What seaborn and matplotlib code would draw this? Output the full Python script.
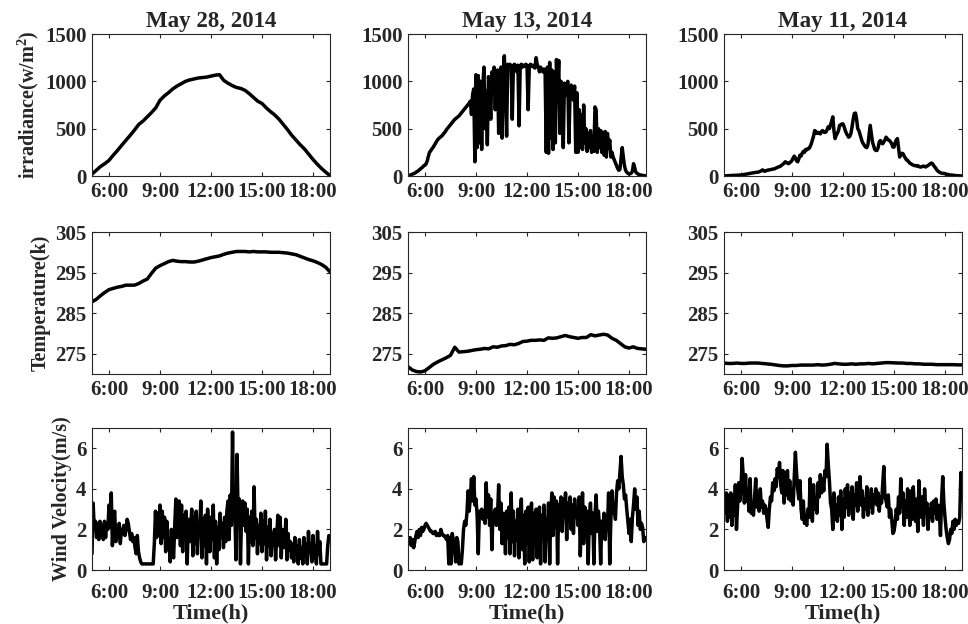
import numpy as np
import pandas as pd
import matplotlib
matplotlib.use("Agg")
import matplotlib.pyplot as plt
import seaborn as sns

# ---------------------------------------------------------------------------
# Measured records for three days (hours of day on the x axis)
# ---------------------------------------------------------------------------
T_START, T_END = 4.97, 19.03

days = ["May 28, 2014", "May 13, 2014", "May 11, 2014"]

# Irradiance (W/m^2)
irr_may28 = [20, 60, 100, 130, 165, 220, 270, 325, 378, 430, 485, 545, 580, 625,
             670, 720, 800, 845, 880, 920, 950, 975, 1000, 1015, 1025, 1035, 1040,
             1045, 1055, 1065, 1070, 1010, 980, 955, 935, 925, 905, 870, 830, 790,
             766, 720, 680, 645, 600, 545, 490, 430, 380, 330, 285, 230, 175, 125,
             80, 40, 5]

irr_may13 = [
    0, 5, 10, 15, 20, 25, 30, 40, 45, 55, 65, 75, 85, 95, 110,
    113, 130, 160, 210, 250, 265, 285, 300, 320, 340, 360, 380, 395, 405, 415,
    425, 440, 455, 470, 490, 505, 520, 535, 550, 565, 580, 595, 605, 615, 625,
    635, 650, 665, 680, 695, 710, 725, 740, 755, 770, 790, 650, 860, 920, 150,
    1070, 300, 1060, 350, 1000, 280, 950, 1150, 500, 900, 330, 1050, 950, 600, 1100,
    1000, 1150, 700, 1100, 1120, 450, 1050, 1150, 400, 1100, 1270, 900, 420, 1180, 1150,
    1180, 1160, 600, 1170, 1180, 1150, 1100, 1170, 530, 1160, 1180, 1150, 1170, 1160, 1180,
    1170, 700, 1150, 1180, 1160, 1170, 1150, 1140, 1250, 1180, 1150, 1100, 1150, 1120, 1100,
    1130, 1080, 250, 1150, 240, 1200, 400, 1120, 280, 1100, 350, 1230, 900, 1220, 450,
    1000, 950, 300, 980, 850, 950, 1000, 350, 900, 960, 850, 800, 950, 250, 880,
    250, 700, 300, 650, 280, 750, 350, 500, 260, 450, 300, 480, 250, 420, 260,
    730, 700, 250, 500, 300, 480, 250, 460, 220, 470, 200, 450, 300, 380, 200,
    250, 200, 170, 140, 110, 80, 60, 70, 180, 300, 200, 110, 60, 40, 30,
    20, 25, 30, 50, 130, 90, 40, 30, 20, 15, 10, 10, 5, 5, 3,
    0]

irr_may11 = [
    0, 1, 2, 3, 4, 5, 5, 6, 6, 7, 7, 8, 8, 9, 10,
    10, 12, 14, 16, 18, 20, 22, 25, 28, 30, 32, 34, 36, 38, 40,
    40, 45, 50, 55, 65, 55, 50, 55, 60, 62, 65, 68, 70, 72, 75,
    78, 85, 90, 95, 100, 105, 115, 125, 135, 150, 145, 135, 130, 140, 150,
    165, 190, 210, 190, 160, 150, 180, 220, 210, 240, 260, 250, 280, 275, 290,
    290, 310, 340, 380, 420, 480, 470, 450, 460, 455, 445, 470, 480, 465, 460,
    465, 490, 520, 500, 540, 580, 625, 480, 395, 430, 450, 480, 535, 540, 550,
    550, 520, 480, 450, 430, 410, 420, 450, 520, 600, 660, 665, 600, 500, 480,
    440, 400, 360, 340, 320, 305, 300, 330, 430, 535, 450, 360, 320, 280, 270,
    270, 300, 360, 375, 350, 340, 360, 380, 410, 395, 380, 375, 360, 340, 305,
    305, 350, 380, 395, 300, 200, 230, 240, 235, 210, 190, 170, 165, 150, 135,
    130, 120, 115, 110, 110, 105, 110, 100, 95, 95, 100, 105, 100, 95, 105,
    110, 120, 130, 137, 130, 110, 95, 80, 60, 50, 40, 35, 30, 28, 25,
    25, 20, 18, 15, 12, 10, 10, 8, 6, 5, 4, 3, 2, 2, 1,
    0]

# Temperature (K)
temp_may28 = [287.8, 288.4, 289.3, 290.1, 290.8, 291.1, 291.4, 291.6, 291.9, 291.9,
              291.9, 292.3, 292.9, 293.4, 294.8, 296.1, 296.7, 297.2, 297.7, 298.0,
              297.8, 297.7, 297.7, 297.6, 297.6, 297.8, 298.1, 298.4, 298.7, 298.9,
              299.1, 299.5, 299.8, 300.0, 300.2, 300.2, 300.2, 300.1, 300.2, 300.1,
              300.1, 300.1, 300.0, 300.0, 300.0, 299.9, 299.8, 299.6, 299.4, 299.0,
              298.6, 298.2, 297.9, 297.5, 297.0, 296.3, 295.2]

temp_may13 = [271.8, 271.0, 270.6, 270.5, 270.8, 271.6, 272.4, 273.0, 273.5, 274.0,
              274.6, 276.6, 275.4, 275.5, 275.6, 275.8, 276.0, 276.1, 276.3, 276.2,
              276.7, 276.6, 276.9, 277.0, 277.3, 277.2, 277.5, 278.0, 278.1, 278.3,
              278.3, 278.4, 278.3, 278.9, 278.8, 278.9, 279.2, 279.5, 279.2, 279.0,
              278.8, 279.0, 279.0, 279.7, 279.4, 279.6, 279.8, 279.6, 278.8, 278.3,
              277.5, 276.7, 276.4, 276.7, 276.3, 276.2, 276.1]

temp_may11 = [272.7, 272.6, 272.6, 272.7, 272.6, 272.6, 272.7, 272.7, 272.7, 272.6,
              272.5, 272.4, 272.25, 272.1, 272.0, 272.0, 272.1, 272.1, 272.2, 272.2,
              272.2, 272.2, 272.3, 272.2, 272.25, 272.4, 272.6, 272.5, 272.4, 272.4,
              272.5, 272.4, 272.5, 272.5, 272.6, 272.5, 272.6, 272.7, 272.8, 272.8,
              272.75, 272.7, 272.7, 272.6, 272.6, 272.5, 272.5, 272.4, 272.4, 272.4,
              272.3, 272.3, 272.3, 272.3, 272.3, 272.25, 272.25]

# Wind velocity (m/s)
wind_may28 = [
    0.8, 3.3, 2.0, 2.4, 1.6, 2.3, 1.5, 2.4, 1.7, 2.2, 1.5, 2.4, 1.6, 2.3, 2.0,
    3.2, 2.1, 3.8, 1.2, 2.6, 2.9, 1.4, 2.0, 1.6, 2.3, 1.3, 2.0, 1.8, 2.2, 1.7,
    2.0, 2.5, 2.3, 1.9, 1.5, 1.8, 1.4, 1.6, 1.1, 0.8, 1.7, 0.9, 0.6, 0.4, 0.3,
    0.3, 0.3, 0.3, 0.3, 0.3, 0.3, 0.3, 0.3, 0.3, 0.3, 1.3, 2.9, 1.6, 2.8, 1.7,
    3.2, 1.3, 2.9, 1.6, 2.6, 0.9, 2.4, 1.1, 1.5, 0.4, 2.0, 1.0, 0.6, 2.2, 3.5,
    1.6, 2.8, 3.4, 1.2, 3.2, 0.9, 2.7, 1.5, 2.9, 0.3, 2.5, 1.4, 2.1, 3.0, 0.7,
    2.6, 1.3, 2.9, 0.8, 2.3, 1.9, 3.4, 0.6, 2.5, 1.2, 2.7, 0.3, 3.0, 2.0, 0.9,
    2.6, 1.5, 3.2, 0.6, 2.4, 0.3, 2.1, 1.0, 2.8, 1.6, 2.3, 1.1, 2.6, 1.4, 2.9,
    3.4, 1.5, 3.7, 2.2, 6.8, 2.5, 3.0, 0.5, 5.7, 2.4, 3.5, 0.3, 2.8, 3.4, 2.2,
    3.3, 1.9, 3.0, 0.3, 2.6, 1.4, 2.9, 1.2, 4.1, 1.6, 2.5, 0.8, 2.2, 1.3, 2.8,
    0.9, 2.4, 1.3, 2.9, 0.5, 2.1, 1.2, 2.5, 0.7, 1.8, 1.3, 2.0, 0.5, 1.7, 2.7,
    1.2, 2.6, 0.6, 2.0, 1.4, 1.1, 2.5, 0.5, 1.8, 1.0, 1.4, 0.6, 1.3, 0.4, 1.6,
    0.8, 1.2, 0.3, 1.5, 0.6, 1.1, 0.3, 1.6, 0.7, 1.3, 0.3, 1.9, 0.9, 1.3, 0.4,
    1.7, 0.6, 1.2, 0.3, 1.9, 0.8, 1.4, 0.3, 0.3, 0.3, 0.3, 0.3, 0.3, 1.2, 1.7,
    1.6]

wind_may13 = [
    1.4, 1.3, 1.6, 1.2, 1.5, 1.1, 1.4, 1.7, 1.9, 1.6, 2.0, 1.7, 2.1, 1.9, 2.0,
    2.2, 2.3, 2.2, 2.1, 2.0, 1.9, 1.9, 1.8, 1.8, 1.9, 1.7, 1.8, 1.7, 1.7, 2.0,
    1.8, 1.7, 1.7, 1.6, 1.5, 1.7, 0.3, 1.6, 0.3, 1.8, 1.5, 1.2, 0.4, 1.6, 1.4,
    0.3, 0.4, 0.3, 1.0, 2.0, 2.4, 2.2, 2.8, 3.9, 2.9, 3.6, 4.5, 3.4, 4.6, 3.2,
    3.5, 2.7, 0.8, 2.9, 2.6, 3.0, 2.5, 2.9, 2.3, 4.3, 2.6, 3.7, 2.2, 3.5, 1.0,
    2.8, 2.4, 3.0, 2.2, 2.7, 4.2, 2.0, 3.3, 1.3, 2.8, 2.5, 0.8, 2.9, 1.6, 3.1,
    0.8, 3.8, 1.4, 2.9, 0.7, 2.4, 1.5, 3.0, 0.6, 2.5, 3.5, 1.0, 2.7, 0.3, 2.9,
    1.3, 3.1, 0.4, 2.6, 3.3, 0.5, 2.8, 1.2, 3.0, 0.6, 2.2, 3.1, 0.3, 2.7, 1.6,
    3.2, 0.4, 2.5, 1.9, 3.3, 0.3, 2.9, 3.8, 1.7, 3.6, 2.1, 3.4, 0.3, 3.2, 2.4,
    3.6, 1.9, 3.5, 2.6, 3.8, 1.5, 3.3, 2.4, 3.6, 2.0, 3.2, 1.8, 3.5, 2.7, 3.0,
    2.2, 3.6, 0.7, 2.5, 3.8, 1.3, 3.1, 2.4, 2.9, 0.3, 2.6, 3.3, 1.8, 2.8, 0.3,
    2.7, 3.7, 1.9, 2.9, 2.2, 0.3, 2.4, 2.0, 2.8, 1.5, 2.6, 2.2, 3.8, 0.3, 2.5,
    3.9, 2.8, 3.2, 2.5, 3.8, 4.4, 4.0, 4.8, 5.6, 4.6, 4.2, 3.5, 3.7, 3.0, 2.4,
    1.8, 2.5, 1.4, 2.6, 3.2, 4.0, 3.0, 3.6, 2.2, 2.9, 2.0, 2.3, 2.1, 1.4, 1.6,
    1.5]

wind_may11 = [
    3.3, 2.8, 3.8, 2.4, 3.7, 2.6, 3.8, 2.2, 3.3, 2.7, 4.2, 2.0, 3.1, 4.3, 3.4,
    4.0, 5.5, 4.6, 3.3, 4.7, 3.4, 4.0, 2.9, 4.5, 2.8, 3.0, 2.7, 3.6, 4.5, 3.1,
    3.5, 2.9, 4.0, 3.1, 3.4, 2.8, 3.2, 3.0, 2.5, 2.1, 3.0, 3.6, 3.4, 4.3, 3.9,
    4.5, 4.1, 5.0, 4.6, 5.3, 4.2, 3.8, 4.9, 3.3, 4.8, 3.7, 4.9, 3.5, 4.4, 3.4,
    4.0, 3.2, 4.6, 5.8, 4.8, 4.0, 3.5, 4.4, 3.0, 2.5, 3.4, 2.3, 2.5, 2.2, 3.0,
    2.6, 4.5, 3.2, 2.4, 4.2, 3.0, 3.5, 2.8, 4.3, 3.6, 4.7, 3.8, 4.5, 3.9, 4.9,
    4.6, 6.2, 5.2, 4.4, 3.3, 3.0, 2.0, 3.8, 2.5, 3.2, 2.4, 3.6, 2.7, 3.9, 2.0,
    3.5, 2.6, 4.0, 3.1, 4.2, 2.7, 3.8, 3.0, 4.1, 2.5, 3.7, 3.2, 4.3, 2.9, 3.8,
    4.6, 3.2, 3.9, 2.6, 3.5, 3.0, 4.1, 2.7, 3.6, 3.1, 4.0, 2.8, 3.7, 3.3, 4.0,
    3.2, 3.8, 2.9, 3.6, 3.3, 4.2, 5.1, 3.6, 3.4, 3.1, 3.7, 2.6, 3.0, 2.5, 1.8,
    1.9, 2.3, 3.0, 2.5, 3.6, 2.8, 4.5, 3.1, 3.8, 2.2, 3.4, 2.6, 4.0, 3.2, 2.2,
    3.9, 2.5, 4.1, 3.0, 2.4, 3.5, 1.9, 4.4, 3.1, 2.6, 3.6, 2.2, 4.0, 2.9, 3.3,
    2.0, 3.0, 2.6, 3.3, 2.4, 3.4, 2.8, 3.5, 2.5, 3.2, 2.8, 1.7, 3.5, 4.6, 3.3,
    2.6, 2.0, 1.6, 1.3, 1.5, 2.0, 1.8, 2.4, 2.0, 2.5, 2.2, 2.4, 2.3, 2.6, 4.8,
    3.5]

x_tick_hours = [6, 9, 12, 15, 18]
x_tick_labels = ["6:00", "9:00", "12:00", "15:00", "18:00"]

rows = [
    {"series": [irr_may28, irr_may13, irr_may11],
     "ylabel": r"irradiance(w/m$^{\mathbf{2}}$)",
     "ylim": (0, 1500), "yticks": [0, 500, 1000, 1500]},
    {"series": [temp_may28, temp_may13, temp_may11],
     "ylabel": "Temperature(k)",
     "ylim": (270, 305), "yticks": [275, 285, 295, 305]},
    {"series": [wind_may28, wind_may13, wind_may11],
     "ylabel": "Wind Velocity(m/s)",
     "ylim": (0, 7), "yticks": [0, 2, 4, 6]},
]

# ---------------------------------------------------------------------------
# Styling
# ---------------------------------------------------------------------------
sns.set_style("ticks")
plt.rcParams["font.family"] = ["Liberation Serif", "DejaVu Serif"]
plt.rcParams["font.weight"] = "bold"
plt.rcParams["mathtext.fontset"] = "custom"
plt.rcParams["mathtext.rm"] = "Liberation Serif:bold"
plt.rcParams["mathtext.bf"] = "Liberation Serif:bold"
plt.rcParams["axes.linewidth"] = 0.8

INK = "#262626"

fig = plt.figure(figsize=(9.68, 6.24), dpi=100)

col_left = [92, 408, 724]
col_width = 238
row_top = [34, 232, 428]
row_height = 142
W, H = 968.0, 624.0

for r, row in enumerate(rows):
    for c in range(3):
        vals = row["series"][c]
        df = pd.DataFrame({
            "hour": np.linspace(T_START, T_END, len(vals)),
            "value": vals,
        })
        ax = fig.add_axes([col_left[c] / W,
                           1 - (row_top[r] + row_height) / H,
                           col_width / W,
                           row_height / H])
        sns.lineplot(data=df, x="hour", y="value", ax=ax, color="black",
                     linewidth=2.5, estimator=None, sort=False)
        ax.set_xlim(T_START, T_END)
        ax.set_ylim(*row["ylim"])
        ax.set_xticks(x_tick_hours)
        ax.set_xticklabels(x_tick_labels)
        ax.set_yticks(row["yticks"])
        ax.tick_params(direction="in", top=True, right=True, length=3,
                       width=0.8, labelsize=15, pad=4, color=INK,
                       labelcolor=INK)
        if r == 2:
            ax.tick_params(axis="x", pad=9)
        for lab in ax.get_xticklabels() + ax.get_yticklabels():
            lab.set_fontweight("bold")
        for sp in ax.spines.values():
            sp.set_visible(True)
            sp.set_color(INK)
        ax.set_xlabel("")
        ax.set_ylabel("")
        if c == 0:
            ax.set_ylabel(row["ylabel"], fontsize=14.5, fontweight="bold",
                          labelpad=3, color=INK)
        if r == 0:
            ax.set_title(days[c], fontsize=16.5, fontweight="bold", pad=5,
                         color=INK)
        if r == 2:
            ax.set_xlabel("Time(h)", fontsize=16, fontweight="bold",
                          labelpad=1, color=INK)

fig.savefig("out.png", dpi=100)
